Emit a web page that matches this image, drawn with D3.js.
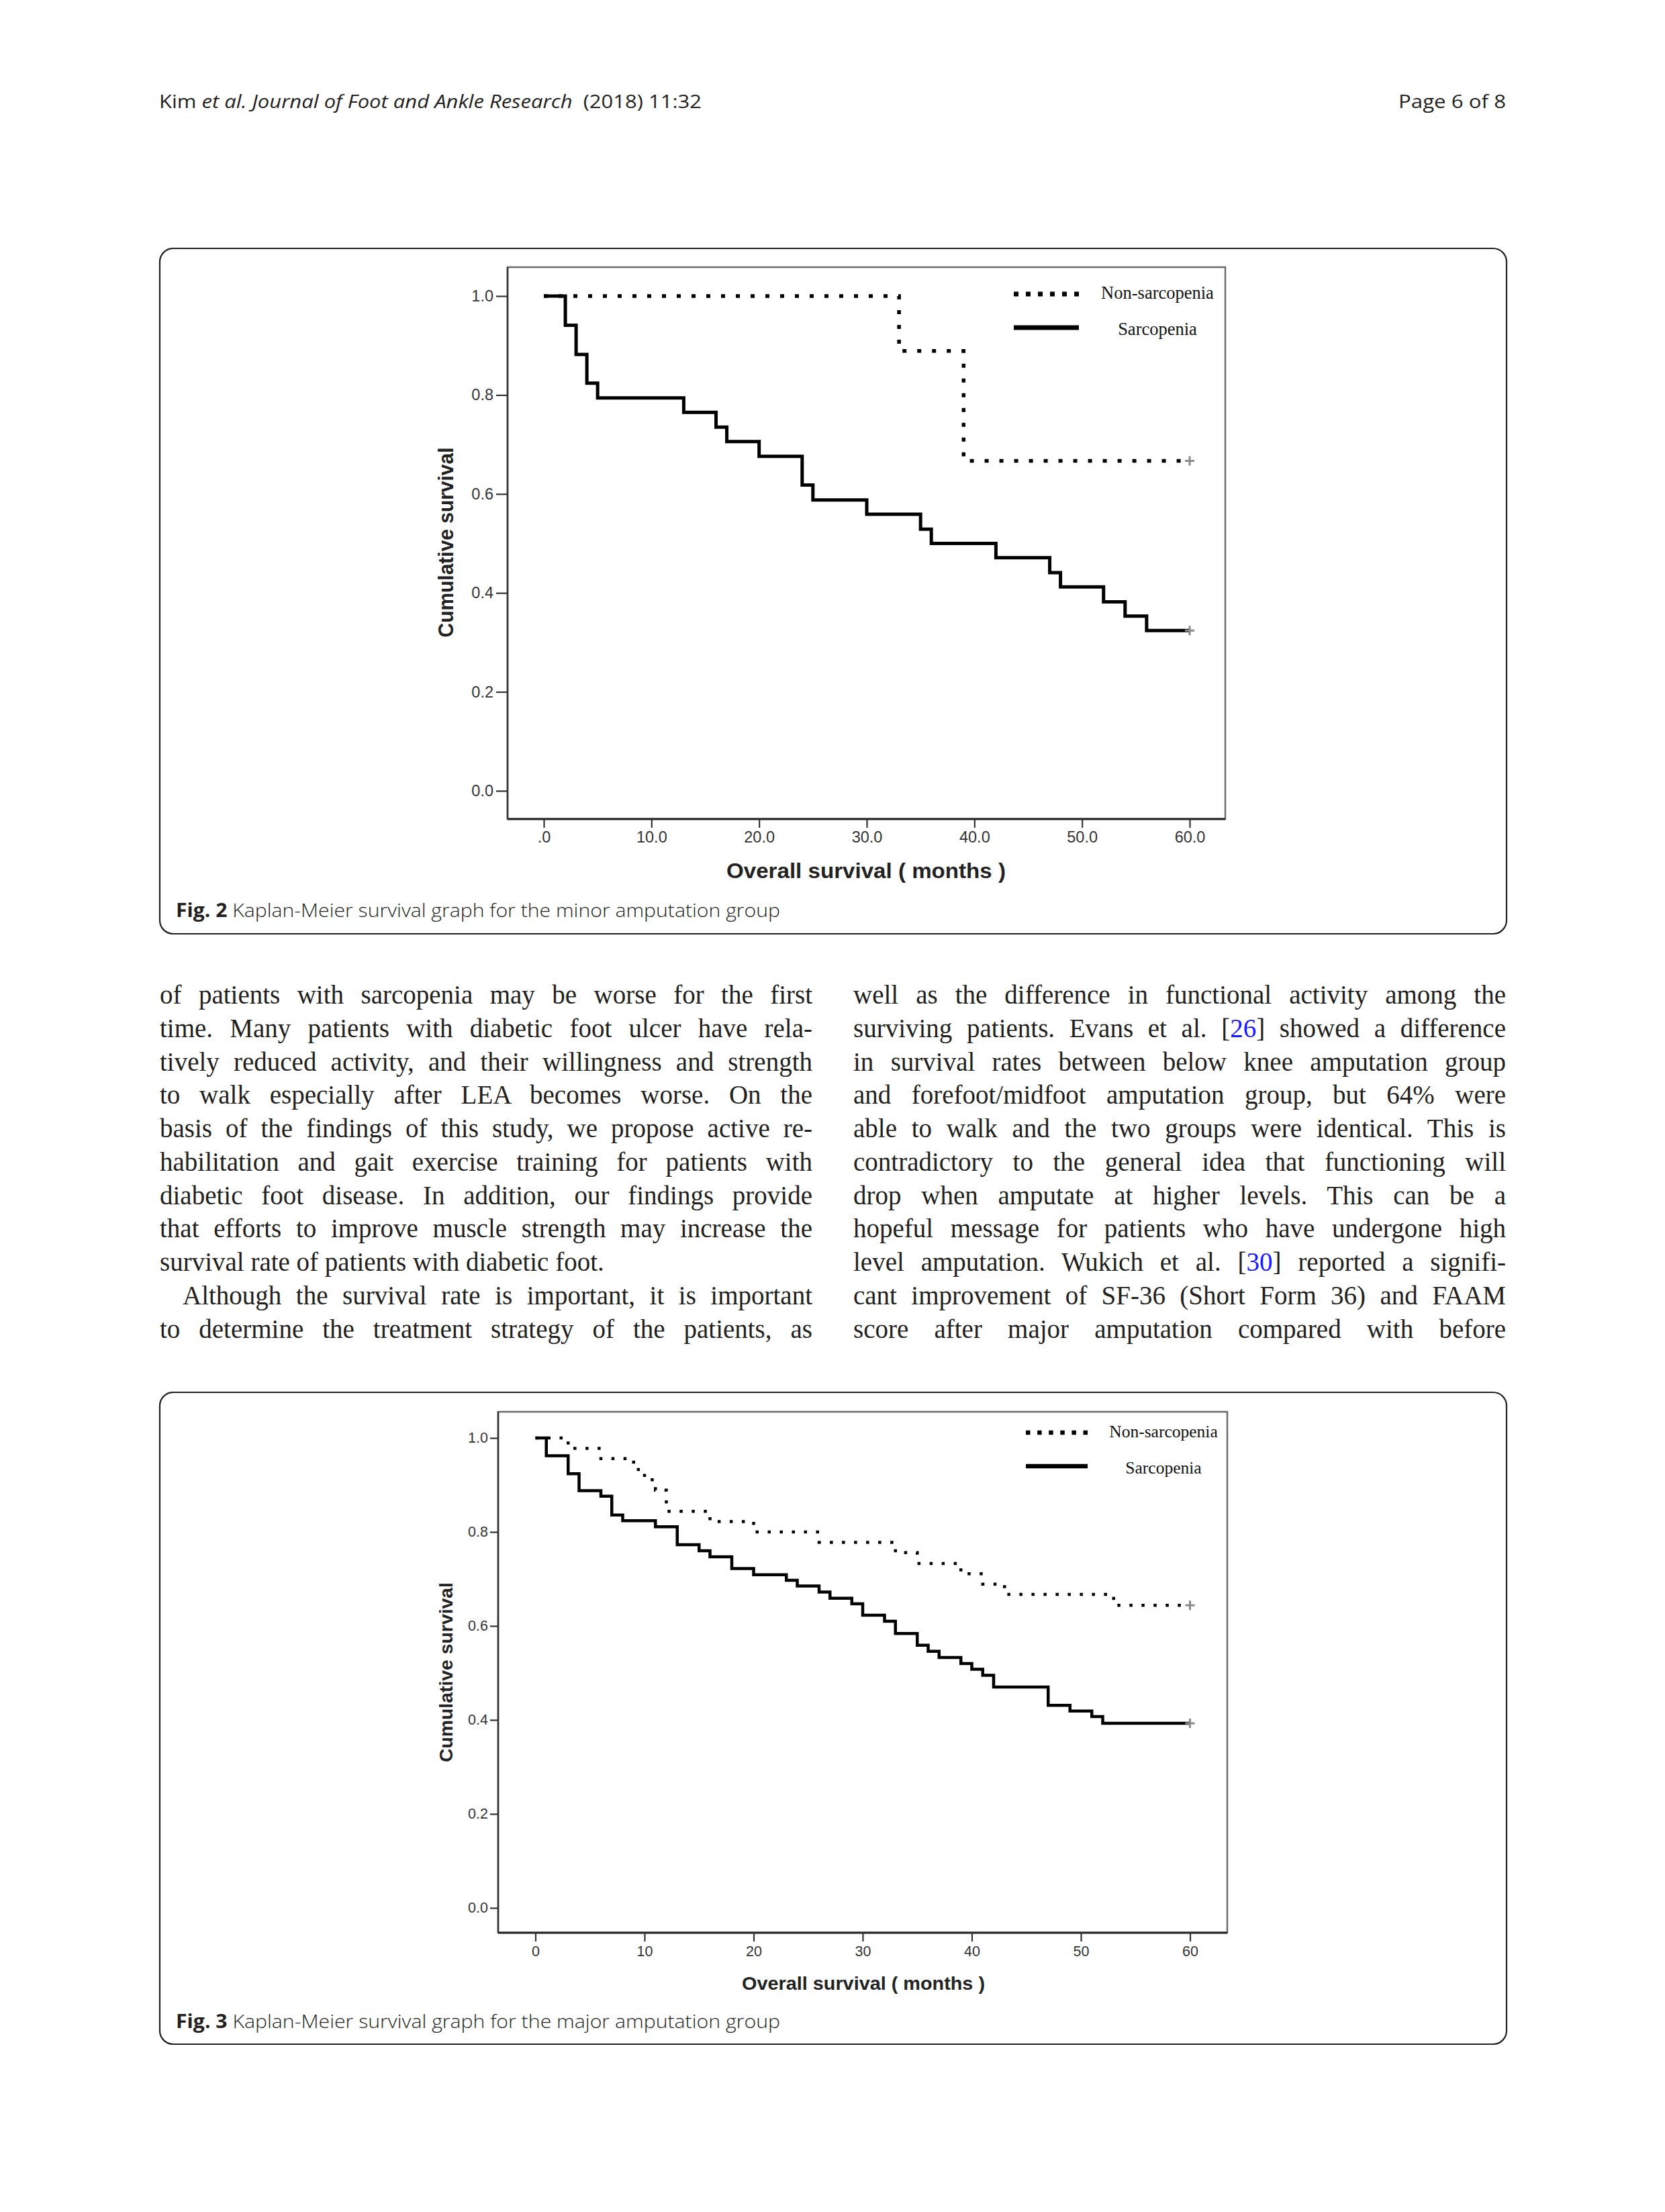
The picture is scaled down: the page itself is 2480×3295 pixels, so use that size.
<!DOCTYPE html>
<html><head><meta charset="utf-8">
<script src="https://cdn.jsdelivr.net/npm/d3@7"></script>
<style>body{margin:0;background:#fff}svg{display:block}</style>
</head><body>
<svg id="page"></svg>
<script>
// ---------------- DATA ----------------
// Fig. 2 (minor amputation group)
const fig2SarcTimes  = [0, 2, 3, 4, 5, 13, 16, 17, 20, 24, 25, 30, 35, 36, 42, 47, 48, 52, 54, 56];
const fig2SarcValues = [1.0, 0.941, 0.882, 0.824, 0.794, 0.765, 0.735, 0.706, 0.676, 0.618, 0.588, 0.559, 0.529, 0.500, 0.471, 0.441, 0.412, 0.382, 0.353, 0.324];
const fig2NonTimes   = [0, 33, 39];
const fig2NonValues  = [1.0, 0.889, 0.667];
const fig2XTickLabels = [".0", "10.0", "20.0", "30.0", "40.0", "50.0", "60.0"];

// Fig. 3 (major amputation group)
const fig3SarcTimes  = [0, 1, 3, 4, 6, 7, 8, 11, 13, 15, 16, 18, 20, 23, 24, 26, 27, 29, 30, 32, 33, 35, 36, 37, 39, 40, 41, 42, 47, 49, 51, 52];
const fig3SarcValues = [1.0, 0.962, 0.924, 0.888, 0.876, 0.836, 0.824, 0.811, 0.773, 0.760, 0.747, 0.722, 0.709, 0.697, 0.685, 0.672, 0.659, 0.647, 0.623, 0.610, 0.584, 0.559, 0.546, 0.533, 0.520, 0.508, 0.495, 0.470, 0.431, 0.419, 0.407, 0.393];
const fig3NonTimes   = [0, 3, 6, 9, 10, 11, 12, 16, 20, 26, 33, 35, 39, 41, 43, 53];
const fig3NonValues  = [1.0, 0.978, 0.956, 0.933, 0.911, 0.889, 0.844, 0.822, 0.800, 0.778, 0.756, 0.733, 0.711, 0.689, 0.667, 0.644];
const fig3XTickLabels = ["0", "10", "20", "30", "40", "50", "60"];

const xTickValues = [0, 10, 20, 30, 40, 50, 60];
const yTickValues = [0, 0.2, 0.4, 0.6, 0.8, 1.0];
const followUpEnd = 60;
const seriesNames = ["Non-sarcopenia", "Sarcopenia"];

const headerLeft = [["Kim ", false], ["et al.", true], [" ", false], ["Journal of Foot and Ankle Research", true], ["  (2018) 11:32", false]];
const headerRight = "Page 6 of 8";
const fig2Caption = ["Fig. 2", " Kaplan-Meier survival graph for the minor amputation group"];
const fig3Caption = ["Fig. 3", " Kaplan-Meier survival graph for the major amputation group"];

const leftColumn = [
  ["of patients with sarcopenia may be worse for the first", 1],
  ["time. Many patients with diabetic foot ulcer have rela-", 1],
  ["tively reduced activity, and their willingness and strength", 1],
  ["to walk especially after LEA becomes worse. On the", 1],
  ["basis of the findings of this study, we propose active re-", 1],
  ["habilitation and gait exercise training for patients with", 1],
  ["diabetic foot disease. In addition, our findings provide", 1],
  ["that efforts to improve muscle strength may increase the", 1],
  ["survival rate of patients with diabetic foot.", 0],
  ["Although the survival rate is important, it is important", 2],
  ["to determine the treatment strategy of the patients, as", 1]
];
const rightColumn = [
  ["well as the difference in functional activity among the", 1],
  ["surviving patients. Evans et al. [{26}] showed a difference", 1],
  ["in survival rates between below knee amputation group", 1],
  ["and forefoot/midfoot amputation group, but 64% were", 1],
  ["able to walk and the two groups were identical. This is", 1],
  ["contradictory to the general idea that functioning will", 1],
  ["drop when amputate at higher levels. This can be a", 1],
  ["hopeful message for patients who have undergone high", 1],
  ["level amputation. Wukich et al. [{30}] reported a signifi-", 1],
  ["cant improvement of SF-36 (Short Form 36) and FAAM", 1],
  ["score after major amputation compared with before", 1]
];

// ---------------- PAGE ----------------
const W = 2480, H = 3295;
const svg = d3.select("#page").attr("width", W).attr("height", H);
svg.append("rect").attr("width", W).attr("height", H).attr("fill", "#fff");

const SANS = "'Open Sans', 'Noto Sans', sans-serif";
const ARIAL = "'Liberation Sans', Arial, sans-serif";
const SERIF = "'Liberation Serif', 'DejaVu Serif', serif";
const TIMES = "'Liberation Serif', 'Times New Roman', serif";

// Header
const hl = svg.append("text").attr("x", 237).attr("y", 161)
  .attr("font-family", SANS).attr("font-size", 28).attr("fill", "#231f20")
  .attr("textLength", 808).attr("lengthAdjust", "spacingAndGlyphs");
headerLeft.forEach(([s, it]) => hl.append("tspan").text(s).attr("font-style", it ? "italic" : "normal").attr("xml:space", "preserve"));
hl.attr("xml:space", "preserve");
svg.append("text").attr("x", 2243).attr("y", 161).attr("text-anchor", "end")
  .attr("font-family", SANS).attr("font-size", 28).attr("fill", "#231f20")
  .attr("textLength", 160).attr("lengthAdjust", "spacingAndGlyphs").text(headerRight);

// Figure boxes
function figBox(y0, y1, caption, capY) {
  svg.append("rect").attr("x", 238).attr("y", y0).attr("width", 2244 - 238).attr("height", y1 - y0)
    .attr("rx", 20).attr("ry", 20).attr("fill", "none").attr("stroke", "#231f20").attr("stroke-width", 2.2);
  const t = svg.append("text").attr("x", 262).attr("y", capY).attr("font-family", SANS)
    .attr("font-size", 28).attr("fill", "#231f20").attr("xml:space", "preserve")
    .attr("textLength", 900).attr("lengthAdjust", "spacingAndGlyphs");
  t.append("tspan").attr("font-weight", "bold").text(caption[0]);
  t.append("tspan").attr("font-weight", 300).text(caption[1]);
}
figBox(370, 1391, fig2Caption, 1366);
figBox(2074, 3045, fig3Caption, 3021);

// Chart drawing
function drawChart(cfg) {
  const g = svg.append("g");
  const x = d3.scaleLinear().domain([0, 60]).range([cfg.x0, cfg.x60]);
  const y = d3.scaleLinear().domain([0, 1]).range([cfg.y0, cfg.y1]);

  // frame
  g.append("rect").attr("x", cfg.left).attr("y", cfg.top).attr("width", cfg.right - cfg.left)
    .attr("height", cfg.bottom - cfg.top).attr("fill", "none").attr("stroke", "#6a6a6a").attr("stroke-width", 2.5);
  g.append("line").attr("x1", cfg.left).attr("x2", cfg.right).attr("y1", cfg.bottom).attr("y2", cfg.bottom)
    .attr("stroke", "#222").attr("stroke-width", 3);
  g.append("line").attr("x1", cfg.left).attr("x2", cfg.left).attr("y1", cfg.top).attr("y2", cfg.bottom)
    .attr("stroke", "#333").attr("stroke-width", 2.5);

  // axes
  const xa = g.append("g").attr("transform", `translate(0,${cfg.bottom})`)
    .call(d3.axisBottom(x).tickValues(xTickValues).tickFormat((d, i) => cfg.xLabels[i])
      .tickSize(cfg.xTick).tickPadding(cfg.xPad));
  const ya = g.append("g").attr("transform", `translate(${cfg.left},0)`)
    .call(d3.axisLeft(y).tickValues(yTickValues).tickFormat(d3.format(".1f"))
      .tickSize(cfg.yTick).tickPadding(cfg.yPad));
  [xa, ya].forEach(a => {
    a.select(".domain").remove();
    a.selectAll(".tick line").attr("stroke", "#333").attr("stroke-width", 2.2);
    a.selectAll(".tick text").attr("font-family", ARIAL).attr("font-size", cfg.tickFont).attr("fill", "#333");
  });

  // titles
  g.append("text").attr("transform", `translate(${cfg.yTitleX},${cfg.yTitleY}) rotate(-90)`)
    .attr("text-anchor", "middle").attr("dominant-baseline", "central")
    .attr("font-family", ARIAL).attr("font-weight", "bold").attr("font-size", cfg.titleFont).attr("fill", "#222")
    .attr("textLength", cfg.yTitleLen).attr("lengthAdjust", "spacingAndGlyphs").text("Cumulative survival");
  g.append("text").attr("x", cfg.xTitleX).attr("y", cfg.xTitleY)
    .attr("text-anchor", "middle").attr("dominant-baseline", "central")
    .attr("font-family", ARIAL).attr("font-weight", "bold").attr("font-size", cfg.titleFont).attr("fill", "#222")
    .attr("textLength", cfg.xTitleLen).attr("lengthAdjust", "spacingAndGlyphs").text("Overall survival ( months )");

  // curves
  const line = d3.line().x(d => x(d[0])).y(d => y(d[1])).curve(d3.curveStepAfter);
  function series(times, vals, dashed) {
    const pts = times.map((t, i) => [t, vals[i]]);
    pts.push([followUpEnd, vals[vals.length - 1]]);
    g.append("path").attr("d", line(pts)).attr("fill", "none").attr("stroke", "#000")
      .attr("stroke-width", dashed ? cfg.dotW : cfg.solidW)
      .attr("stroke-dasharray", dashed ? cfg.dash : null)
      .attr("stroke-linecap", "butt").attr("stroke-linejoin", "miter");
    // censor mark
    const cx = x(followUpEnd), cy = y(vals[vals.length - 1]), s = 7;
    g.append("path").attr("d", `M${cx - s},${cy}H${cx + s}M${cx},${cy - s}V${cy + s}`)
      .attr("stroke", "#8a8a8a").attr("stroke-width", 3).attr("fill", "none");
  }
  series(cfg.nonT, cfg.nonV, true);
  series(cfg.sarT, cfg.sarV, false);

  // legend
  const L = cfg.legend;
  g.append("line").attr("x1", L.x1).attr("x2", L.x2).attr("y1", L.yDot).attr("y2", L.yDot)
    .attr("stroke", "#000").attr("stroke-width", L.dotW).attr("stroke-dasharray", L.dash);
  g.append("line").attr("x1", L.x1).attr("x2", L.x2s).attr("y1", L.ySolid).attr("y2", L.ySolid)
    .attr("stroke", "#000").attr("stroke-width", L.solidW);
  [[seriesNames[0], L.yDot - 2], [seriesNames[1], L.ySolid + 2]].forEach(([s, yy]) => {
    g.append("text").attr("x", L.tx).attr("y", yy).attr("text-anchor", "middle")
      .attr("dominant-baseline", "central").attr("font-family", TIMES).attr("font-size", L.font)
      .attr("fill", "#111").text(s);
  });
}

drawChart({
  left: 756, top: 398, right: 1825, bottom: 1220,
  x0: 810, x60: 1772, y0: 1178, y1: 441,
  xLabels: fig2XTickLabels, xTick: 13, xPad: 5, yTick: 17, yPad: 4, tickFont: 23.5,
  titleFont: 31, yTitleX: 664, yTitleY: 808, yTitleLen: 283, xTitleX: 1290, xTitleY: 1297, xTitleLen: 416,
  nonT: fig2NonTimes, nonV: fig2NonValues, sarT: fig2SarcTimes, sarV: fig2SarcValues,
  dotW: 5.5, dash: "6 16", solidW: 5,
  legend: { x1: 1510, x2: 1607, x2s: 1607, yDot: 438, ySolid: 488, dotW: 7, dash: "7 11", solidW: 7, tx: 1724, font: 26.5 }
});

drawChart({
  left: 742, top: 2103, right: 1828, bottom: 2879,
  x0: 797.5, x60: 1772.5, y0: 2842, y1: 2142,
  xLabels: fig3XTickLabels, xTick: 13, xPad: 7, yTick: 12, yPad: 3, tickFont: 21.5,
  titleFont: 28, yTitleX: 664, yTitleY: 2491, yTitleLen: 268, xTitleX: 1286, xTitleY: 2954, xTitleLen: 362,
  nonT: fig3NonTimes, nonV: fig3NonValues, sarT: fig3SarcTimes, sarV: fig3SarcValues,
  dotW: 4.5, dash: "4.5 13.5", solidW: 4.5,
  legend: { x1: 1528, x2: 1620, x2s: 1620, yDot: 2134, ySolid: 2184, dotW: 6.5, dash: "6.5 10.6", solidW: 6.5, tx: 1733, font: 25.5 }
});

// Body text (two justified columns)
function column(lines, x0, x1, yStart, lh) {
  lines.forEach(([s, mode], i) => {
    const indent = mode === 2 ? 34 : 0;
    const t = svg.append("text").attr("x", x0 + indent).attr("y", yStart + i * lh)
      .attr("font-family", SERIF).attr("font-size", 39).attr("fill", "#231f20").attr("xml:space", "preserve");
    s.split(/(\{\d+\})/).forEach(part => {
      if (!part) return;
      const m = part.match(/^\{(\d+)\}$/);
      if (m) t.append("tspan").attr("fill", "#1a1aff").text(m[1]);
      else t.append("tspan").text(part);
    });
    if (mode) {
      const nat = t.node().getComputedTextLength();
      const spaces = (s.match(/ /g) || []).length;
      const ws = (x1 - x0 - indent - nat) / spaces;
      t.style("word-spacing", ws + "px");
    }
  });
}
column(leftColumn, 238, 1210, 1495, 49.75);
column(rightColumn, 1271, 2243, 1495, 49.75);
</script>
</body></html>
